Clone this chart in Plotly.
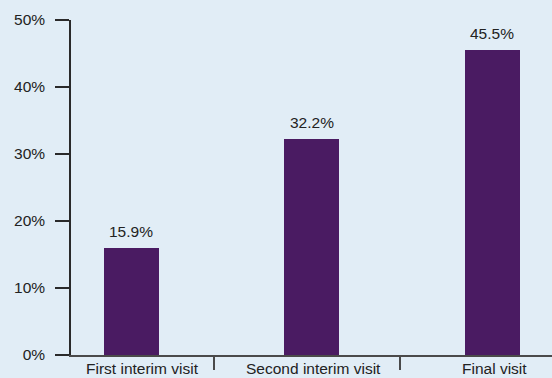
import plotly.graph_objects as go

# Share of patients at each visit
categories = ["First interim visit", "Second interim visit", "Final visit"]
values = [15.9, 32.2, 45.5]
y_ticks = [0, 10, 20, 30, 40, 50]
y_tick_labels = ["0%", "10%", "20%", "30%", "40%", "50%"]

BG = "#e1edf6"
BAR = "#4a1b62"
FONT = "Liberation Sans, Arial, Helvetica, sans-serif"
TEXT = "#222222"

xs = list(range(len(categories)))

fig = go.Figure()
fig.add_trace(go.Bar(
    x=xs,
    y=values,
    width=0.305,
    marker=dict(color=BAR, line=dict(width=0)),
    hoverinfo="skip",
))

# value labels above each bar
for x, v in zip(xs, values):
    fig.add_annotation(
        x=x, y=v, text=f"{v:.1f}%", showarrow=False,
        xanchor="center", yanchor="bottom", yshift=6,
        font=dict(family=FONT, size=15.5, color=TEXT),
    )

# category labels under the axis
label_offsets = [0.06, 0.01, 0.01]
for x, name, off in zip(xs, categories, label_offsets):
    fig.add_annotation(
        x=x + off, xref="x", y=0, yref="paper", text=name, showarrow=False,
        xanchor="center", yanchor="top", yshift=-3,
        font=dict(family=FONT, size=15.5, color=TEXT),
    )

fig.update_layout(
    width=552, height=378,
    margin=dict(l=71, r=0, t=20, b=23),
    paper_bgcolor=BG, plot_bgcolor=BG,
    showlegend=False,
    bargap=0,
    xaxis=dict(
        range=[-0.335, 2.33],
        showgrid=False, zeroline=False,
        showline=True, linecolor="#4a4a4a", linewidth=1.5,
        tickmode="array", tickvals=[0.46, 1.49], ticktext=["", ""],
        ticks="outside", ticklen=13, tickwidth=1.5, tickcolor="#4a4a4a",
        fixedrange=True,
    ),
    yaxis=dict(
        range=[0, 50],
        showgrid=False, zeroline=False,
        showline=True, linecolor="#2a2a2a", linewidth=1.5,
        tickmode="array", tickvals=y_ticks, ticktext=y_tick_labels,
        ticks="outside", ticklen=14, tickwidth=1.5, tickcolor="#2a2a2a",
        ticklabelstandoff=7,
        tickfont=dict(family=FONT, size=15.5, color=TEXT),
        fixedrange=True,
    ),
)

fig.write_html("out.html", config={"displayModeBar": False})
